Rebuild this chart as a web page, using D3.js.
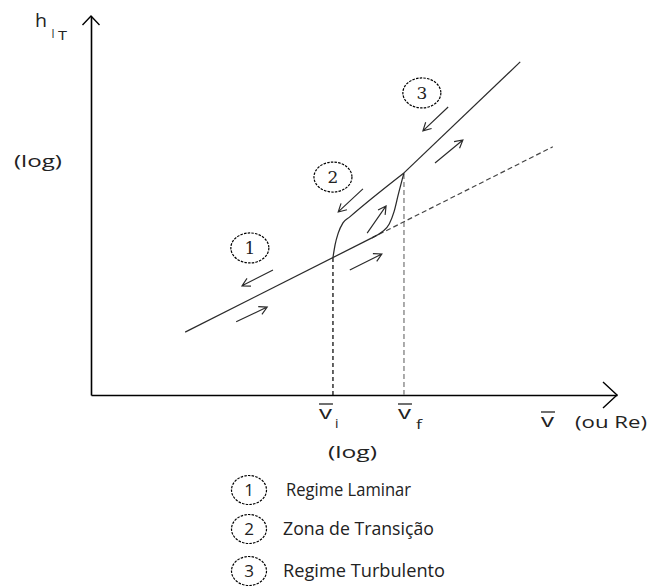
<!DOCTYPE html>
<html>
<head>
<meta charset="utf-8">
<script src="https://cdn.jsdelivr.net/npm/d3@7"></script>
<style>
  html, body { margin: 0; padding: 0; background: #fff; }
  svg { display: block; }
  text { font-family: "Open Sans", "Noto Sans", sans-serif; fill: #222; }
</style>
</head>
<body>
<svg id="chart" width="651" height="587"></svg>
<script>
// Schematic log-log diagram: heat-transfer coefficient vs. mean velocity (or Re)
// Abstract units: x = log(v), y = log(h)

const laminarSolid = [[1.79, 1.66], [5.34, 4.145]];
const laminarDashed = [[5.34, 4.145], [8.78, 6.55]];
const turbulent = [[5.95, 5.86], [8.16, 8.79]];
const transitionUpper = [[4.60, 3.627], [4.64, 3.96], [4.70, 4.27], [4.79, 4.54], [4.92, 4.70], [5.95, 5.86]];
const transitionLower = [[5.34, 4.145], [5.53, 4.30], [5.67, 4.51], [5.76, 4.83], [5.84, 5.28], [5.95, 5.86]];
const vInitial = 4.60, vFinal = 5.95;
const hInitial = 3.627, hFinal = 5.86;

// direction arrows along the curves: [from, to]
const flowArrows = [
  [[3.46, 3.30], [2.87, 2.88]],
  [[2.76, 1.93], [3.35, 2.32]],
  [[4.92, 3.30], [5.53, 3.72]],
  [[5.25, 4.27], [5.61, 4.99]],
  [[5.17, 5.44], [4.70, 4.83]],
  [[6.79, 7.60], [6.31, 6.97]],
  [[6.54, 6.12], [7.07, 6.73]]
];

const regimeIds = ["1", "2", "3"];
const regimeMarks = [[3.02, 3.88], [4.60, 5.75], [6.29, 7.97]];
const regimeNames = ["Regime Laminar", "Zona de Transição", "Regime Turbulento"];

const svg = d3.select("#chart");
const x = d3.scaleLinear().domain([0, 10]).range([91, 617]);
const y = d3.scaleLinear().domain([0, 10]).range([395, 16]);
const line = d3.line().x(d => x(d[0])).y(d => y(d[1]));
const curve = d3.line().x(d => x(d[0])).y(d => y(d[1])).curve(d3.curveMonotoneX);

const ink = "#2a2a2a";

// axes (no ticks), with open arrow heads
const gx = svg.append("g").attr("transform", `translate(0,${y(0)})`)
  .call(d3.axisBottom(x).tickValues([]).tickSizeOuter(0));
const gy = svg.append("g").attr("transform", `translate(${x(0)},0)`)
  .call(d3.axisLeft(y).tickValues([]).tickSizeOuter(0));
[gx, gy].forEach(g => g.select(".domain").attr("stroke", "#000").attr("stroke-width", 1.6));

const xEnd = x.range()[1], yTop = y.range()[1];
svg.append("path")
  .attr("d", `M${xEnd - 14},${y(0) - 13} L${xEnd},${y(0)} L${xEnd - 14},${y(0) + 13}`)
  .attr("fill", "none").attr("stroke", "#000").attr("stroke-width", 1.4);
svg.append("path")
  .attr("d", `M${x(0) - 8.5},${yTop + 9} L${x(0)},${yTop} L${x(0) + 8.5},${yTop + 9}`)
  .attr("fill", "none").attr("stroke", "#000").attr("stroke-width", 1.4);

// vertical guides at vi and vf
svg.append("line")
  .attr("x1", x(vInitial)).attr("x2", x(vInitial)).attr("y1", y(0)).attr("y2", y(hInitial))
  .attr("stroke", "#111").attr("stroke-width", 1.3).attr("stroke-dasharray", "4,3");
svg.append("line")
  .attr("x1", x(vFinal)).attr("x2", x(vFinal)).attr("y1", y(0)).attr("y2", y(hFinal))
  .attr("stroke", "#888").attr("stroke-width", 1.4).attr("stroke-dasharray", "5,3");

// curves
svg.append("path").attr("d", line(laminarSolid))
  .attr("fill", "none").attr("stroke", ink).attr("stroke-width", 1.25);
svg.append("path").attr("d", line(laminarDashed))
  .attr("fill", "none").attr("stroke", "#444").attr("stroke-width", 1.2).attr("stroke-dasharray", "5,3");
svg.append("path").attr("d", line(turbulent))
  .attr("fill", "none").attr("stroke", ink).attr("stroke-width", 1.25);
svg.append("path").attr("d", curve(transitionUpper))
  .attr("fill", "none").attr("stroke", ink).attr("stroke-width", 1.25);
svg.append("path").attr("d", curve(transitionLower))
  .attr("fill", "none").attr("stroke", ink).attr("stroke-width", 1.25);

// direction arrows
flowArrows.forEach(([a, b]) => {
  const x1 = x(a[0]), y1 = y(a[1]), x2 = x(b[0]), y2 = y(b[1]);
  const ang = Math.atan2(y2 - y1, x2 - x1);
  const L = 9, spread = 0.5;
  const w1 = [x2 - L * Math.cos(ang - spread), y2 - L * Math.sin(ang - spread)];
  const w2 = [x2 - L * Math.cos(ang + spread), y2 - L * Math.sin(ang + spread)];
  svg.append("path")
    .attr("d", `M${x1},${y1} L${x2},${y2} M${w1[0]},${w1[1]} L${x2},${y2} L${w2[0]},${w2[1]}`)
    .attr("fill", "none").attr("stroke", ink).attr("stroke-width", 1.15);
});

// regime markers on the chart
regimeMarks.forEach((p, i) => {
  const g = svg.append("g").attr("transform", `translate(${x(p[0])},${y(p[1])})`);
  g.append("ellipse").attr("rx", 19).attr("ry", 15)
    .attr("fill", "none").attr("stroke", "#000").attr("stroke-width", 1.2).attr("stroke-dasharray", "2.5,1.2");
  g.append("text").text(regimeIds[i]).attr("text-anchor", "middle").attr("dy", 6)
    .style("font-family", "'DejaVu Serif', 'Liberation Serif', serif").style("font-size", "17px");
});

// helper for text stretched to a given width
function label(str, x0, base, size, width) {
  const t = svg.append("text").text(str).attr("x", x0).attr("y", base).style("font-size", size + "px");
  if (width) t.attr("textLength", width).attr("lengthAdjust", "spacingAndGlyphs");
  return t;
}

// y-axis title: h with nested subscripts
label("h", 35, 27, 19, 12);
label("I", 51.5, 38, 12, 3);
label("T", 58, 40, 12, 9);
label("(log)", 14, 167, 17, 48);

// x-axis labels
function vbar(x0, base, sub, subX, subBase) {
  label("v", x0, base, 18, 13);
  svg.append("line").attr("x1", x0).attr("x2", x0 + 14).attr("y1", base - 15).attr("y2", base - 15)
    .attr("stroke", "#222").attr("stroke-width", 1.3);
  if (sub) label(sub, subX, subBase, 13, sub === "i" ? 3.5 : 6);
}
vbar(x(vInitial) - 14, 419, "i", x(vInitial) + 2, 428);
vbar(x(vFinal) - 6, 419, "f", x(vFinal) + 12, 429);
vbar(541, 427);
label("(ou Re)", 575, 428, 17, 72);
label("(log)", 328, 458, 17, 49);

// legend
const legendBase = [496, 535, 577];
const legendText = [[286, 125], [283, 151], [283, 162]];
regimeNames.forEach((name, i) => {
  const cy = legendBase[i] - 6;
  const g = svg.append("g").attr("transform", `translate(${249},${cy})`);
  g.append("ellipse").attr("rx", 17.5).attr("ry", 14.5)
    .attr("fill", "none").attr("stroke", "#000").attr("stroke-width", 1.2).attr("stroke-dasharray", "2.5,1.2");
  g.append("text").text(regimeIds[i]).attr("text-anchor", "middle").attr("dy", 6).style("font-size", "17px");
  label(name, legendText[i][0], legendBase[i], 18, legendText[i][1]);
});
</script>
</body>
</html>
